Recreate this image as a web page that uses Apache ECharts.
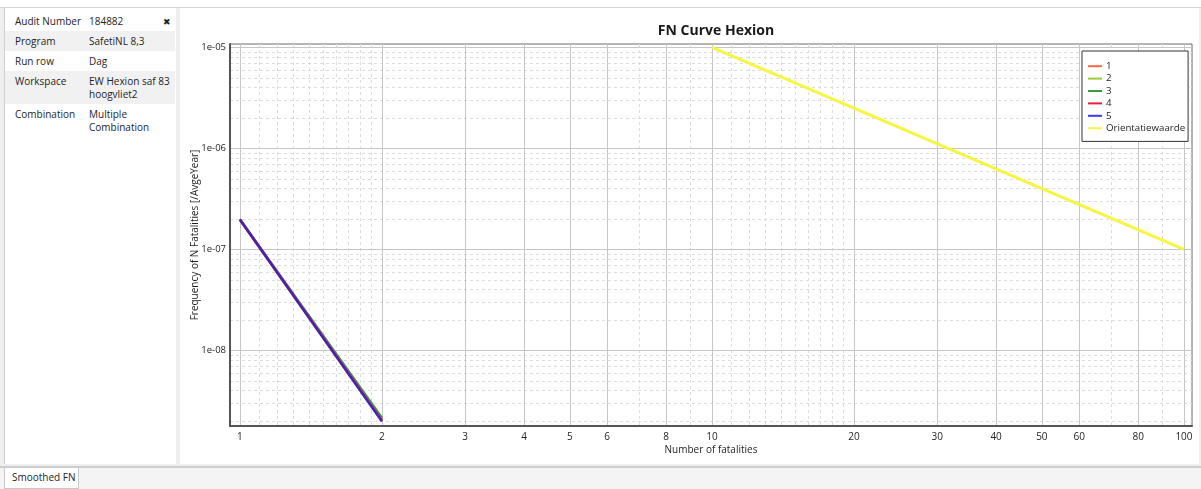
<!DOCTYPE html>
<html>
<head>
<meta charset="utf-8">
<script src="https://cdn.jsdelivr.net/npm/echarts@6/dist/echarts.min.js"></script>
<style>
  html, body { margin: 0; padding: 0; }
  body { width: 1201px; height: 489px; position: relative; overflow: hidden; background: #ffffff;
         font-family: "Open Sans", "Noto Sans", sans-serif; color: #1e1e1e; }
  #topline { position: absolute; left: 0; top: 7px; width: 1201px; height: 1px; background: #d4d4d4; }
  #bg { position: absolute; left: 0; top: 8px; width: 1201px; height: 458px; background: #efefef; }
  #leftpanel { position: absolute; left: 4px; top: 8px; width: 171px; height: 456px; background: #ffffff;
               border-left: 1px solid #cfcfcf; }
  #chartpanel { position: absolute; left: 180px; top: 8px; width: 1019px; height: 456px; background: #ffffff; }
  #bottombar { position: absolute; left: 0; top: 466px; width: 1201px; height: 23px; background: #f4f4f4;
               border-top: 2px solid #cdcdcd; box-sizing: border-box; }
  #tab { position: absolute; left: 4px; top: 468px; width: 75px; height: 21px; background: #ffffff;
         border: 1px solid #c8c8c8; border-top: none; box-sizing: border-box; font-size: 10px;
         line-height: 19px; padding-left: 7px; white-space: nowrap; }
  table { position: absolute; left: 5px; top: 11px; width: 170px; border-collapse: collapse; font-size: 10px; }
  td { vertical-align: top; padding: 4px 0 3px 0; line-height: 13px; white-space: nowrap; }
  td.k { padding-left: 10px; width: 74px; }
  tr.g td { background: #f1f1f1; }
  #close { position: absolute; left: 163px; top: 15px; font-size: 9px; }
  #chart { position: absolute; left: 0; top: 0; width: 1201px; height: 489px; }
</style>
</head>
<body>
<div id="topline"></div>
<div id="bg"></div>
<div id="leftpanel"></div>
<div id="chartpanel"></div>
<div id="bottombar"></div>
<div id="tab">Smoothed FN</div>
<table>
  <tr><td class="k">Audit Number</td><td>184882</td></tr>
  <tr class="g"><td class="k">Program</td><td>SafetiNL 8,3</td></tr>
  <tr><td class="k">Run row</td><td>Dag</td></tr>
  <tr class="g"><td class="k">Workspace</td><td>EW Hexion saf 83<br>hoogvliet2</td></tr>
  <tr><td class="k">Combination</td><td>Multiple<br>Combination</td></tr>
</table>
<div id="close">&#x2716;</div>
<div id="chart"></div>
<script>
// ---- data ----
var seriesNames = ['1', '2', '3', '4', '5', 'Orientatiewaarde'];
var fatalities15 = [1, 2];
var s1 = [1.98e-7, 2.08e-9];
var s2 = [1.98e-7, 2.12e-9];
var s3 = [1.98e-7, 2.15e-9];
var s4 = [1.98e-7, 2.02e-9];
var s5 = [1.98e-7, 1.98e-9];
var fatalitiesOrient = [10, 100];
var orient = [1e-5, 1e-7];
var seriesColors = ['#ff6a3d', '#9acd32', '#3c9a3c', '#e8203c', '#3838ee', '#f5f542'];

// tick values
var xMajorTicks = [1, 2, 3, 4, 5, 6, 8, 10, 20, 30, 40, 50, 60, 80, 100];
var xMinorTicks = [1.1, 1.2, 1.3, 1.4, 1.5, 1.6, 1.7, 1.8, 1.9, 7, 9,
                   11, 12, 13, 14, 15, 16, 17, 18, 19, 70, 90];
var yMajorTicks = [1e-8, 1e-7, 1e-6, 1e-5];
var yMinorTicks = [2e-9, 3e-9, 4e-9, 5e-9, 6e-9, 7e-9, 8e-9, 9e-9,
                   2e-8, 3e-8, 4e-8, 5e-8, 6e-8, 7e-8, 8e-8, 9e-8,
                   2e-7, 3e-7, 4e-7, 5e-7, 6e-7, 7e-7, 8e-7, 9e-7,
                   2e-6, 3e-6, 4e-6, 5e-6, 6e-6, 7e-6, 8e-6, 9e-6];
var xRange = [0.953, 104];
var yRange = [1.79e-9, 1.08e-5];

var L = Math.log10;
function pairs(xs, ys) { return xs.map(function (x, i) { return [L(x), L(ys[i])]; }); }
function xFmt(v) {
  var best = xMajorTicks[0];
  xMajorTicks.forEach(function (t) { if (Math.abs(L(t) - v) < Math.abs(L(best) - v)) best = t; });
  return String(best);
}
function yFmt(v) {
  var e = Math.round(v);
  return '1e' + (e < 0 ? '-' : '+') + String(Math.abs(e)).padStart(2, '0');
}

var font = '"Open Sans", "Noto Sans", sans-serif';
var lineData = [s1, s2, s3, s4, s5];
var series = lineData.map(function (d, i) {
  var isBlue = (i === 4);
  return {
    name: seriesNames[i], type: 'line', xAxisIndex: 0, yAxisIndex: 0,
    data: pairs(fatalities15, d), symbol: 'none', z: 3 + i,
    lineStyle: { color: isBlue ? '#3020c8' : seriesColors[i], width: 2.5, opacity: isBlue ? 0.85 : 1 },
    itemStyle: { color: seriesColors[i] }
  };
});
series.push({
  name: seriesNames[5], type: 'line', xAxisIndex: 0, yAxisIndex: 0,
  data: pairs(fatalitiesOrient, orient), symbol: 'none', z: 3,
  lineStyle: { color: seriesColors[5], width: 3 }, itemStyle: { color: seriesColors[5] }
});

var chart = echarts.init(document.getElementById('chart'), null, { renderer: 'canvas' });
chart.setOption({
  animation: false,
  textStyle: { fontFamily: font },
  title: {
    text: 'FN Curve Hexion', left: 711, top: 19, textAlign: 'center',
    textStyle: { fontSize: 14, fontWeight: 'bold', color: '#1a1a1a', fontFamily: font }
  },
  legend: {
    orient: 'vertical', left: 1082, top: 51,
    padding: [9, 3, 7, 6], itemGap: 0, itemWidth: 14, itemHeight: 2, icon: 'rect',
    backgroundColor: '#ffffff', borderColor: '#333333', borderWidth: 1,
    textStyle: { fontSize: 9.7, lineHeight: 12.4, color: '#1e1e1e', fontFamily: font, padding: [0, 0, 0, -1] },
    data: seriesNames
  },
  grid: {
    left: 230, top: 44, right: 9, bottom: 63,
    show: true, borderColor: '#6a6a6a', borderWidth: 1, backgroundColor: 'transparent'
  },
  xAxis: [
    {
      type: 'value', min: L(xRange[0]), max: L(xRange[1]), position: 'bottom',
      name: 'Number of fatalities', nameLocation: 'middle', nameGap: 19, nameMoveOverlap: false,
      nameTextStyle: { fontSize: 10, color: '#1e1e1e', fontFamily: font },
      axisLine: { show: true, onZero: false, lineStyle: { color: '#555555', width: 2 } },
      axisTick: { show: false, customValues: xMajorTicks.map(L) },
      axisLabel: { customValues: xMajorTicks.map(L), formatter: xFmt, fontSize: 10,
                   color: '#1e1e1e', margin: 6, fontFamily: font, hideOverlap: false },
      splitLine: { show: true, lineStyle: { color: '#c6c6c6', width: 1 } },
      z: 2
    },
    {
      type: 'value', min: L(xRange[0]), max: L(xRange[1]), position: 'bottom',
      axisLine: { show: false, onZero: false }, axisLabel: { show: false },
      axisTick: { show: false, customValues: xMinorTicks.map(L) },
      splitLine: { show: true, lineStyle: { color: '#dcdcdc', width: 1, type: [3, 3] } },
      z: 1
    }
  ],
  yAxis: [
    {
      type: 'value', min: L(yRange[0]), max: L(yRange[1]), position: 'left',
      name: 'Frequency of N Fatalities [/AvgeYear]', nameLocation: 'middle', nameGap: 30,
      nameMoveOverlap: false,
      nameTextStyle: { fontSize: 10, color: '#1e1e1e', fontFamily: font },
      axisLine: { show: true, onZero: false, lineStyle: { color: '#555555', width: 2 } },
      axisTick: { show: false, customValues: yMajorTicks.map(L) },
      axisLabel: { customValues: yMajorTicks.map(L), formatter: yFmt, fontSize: 9.5,
                   color: '#1e1e1e', margin: 4, fontFamily: font },
      splitLine: { show: true, lineStyle: { color: '#c6c6c6', width: 1 } },
      z: 2
    },
    {
      type: 'value', min: L(yRange[0]), max: L(yRange[1]), position: 'left',
      axisLine: { show: false, onZero: false }, axisLabel: { show: false },
      axisTick: { show: false, customValues: yMinorTicks.map(L) },
      splitLine: { show: true, lineStyle: { color: '#dcdcdc', width: 1, type: [3, 3] } },
      z: 1
    }
  ],
  series: series
});
</script>
</body>
</html>
